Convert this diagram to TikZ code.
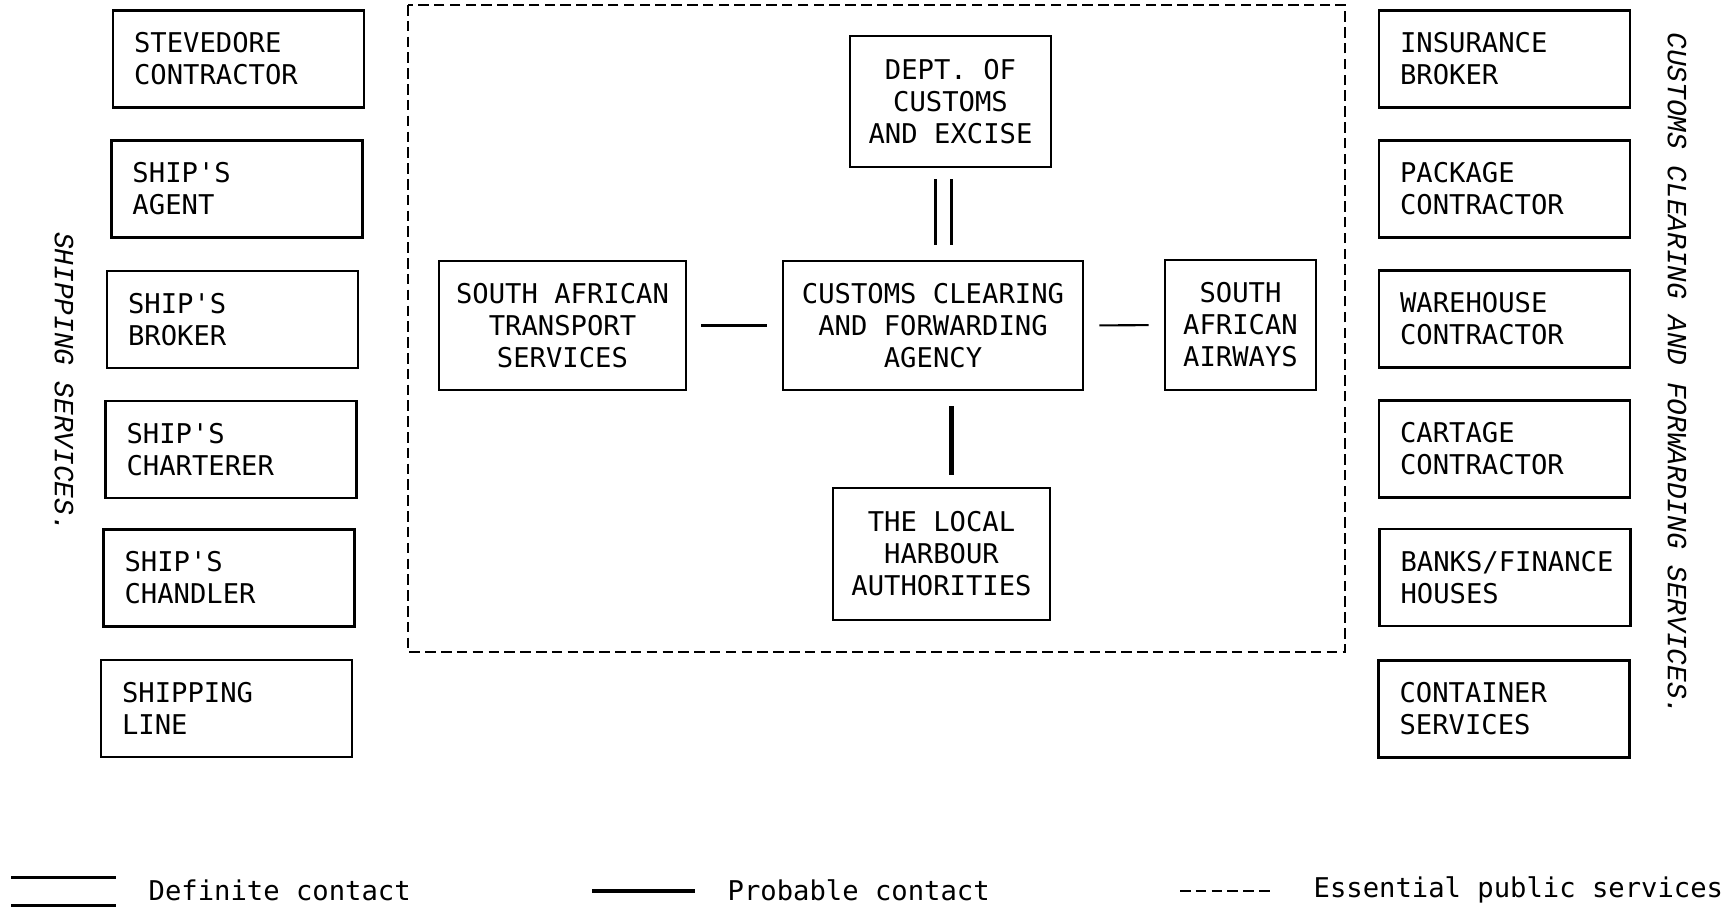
\documentclass[tikz,border=0pt]{standalone}
\usepackage{fontspec}
\setmonofont{DejaVu Sans Mono}
\newfontfamily\courfont{Liberation Mono}
\newcommand\boxfont{\fontsize{7.74}{9.1}\selectfont\ttfamily}
\newcommand\sidefont{\fontsize{7.9}{9.1}\selectfont\courfont\itshape}

\begin{document}
\begin{tikzpicture}[
	sidebox/.style={draw, thick, text width=2.09cm, align=left, inner xsep=0.21cm, minimum height=0.97cm, font=\boxfont},
	midbox/.style={draw, thick, align=center, inner sep=0pt, font=\boxfont},
	definite/.style={double, double distance=3.7pt, line width=0.85pt},
	probable/.style={line width=1.15pt},
	thinlink/.style={line width=0.6pt},
	public/.style={thick, dash pattern=on 3pt off 1.5pt}]
	\useasboundingbox (0,0) rectangle (17.34,-9.08);
	% shipping services
	\node[sidebox] (stevedore) at (2.385,-0.59) {STEVEDORE\\CONTRACTOR};
	\node[sidebox] (agent) at (2.37,-1.89) {SHIP'S\\AGENT};
	\node[sidebox] (broker) at (2.325,-3.195) {SHIP'S\\BROKER};
	\node[sidebox] (charterer) at (2.31,-4.495) {SHIP'S\\CHARTERER};
	\node[sidebox] (chandler) at (2.29,-5.78) {SHIP'S\\CHANDLER};
	\node[sidebox] (line) at (2.265,-7.085) {SHIPPING\\LINE};
	\node[rotate=-90, font=\sidefont] (shiplabel) at (0.64,-3.82) {SHIPPING SERVICES.};
	% clearing and forwarding services
	\node[sidebox] (insurance) at (15.045,-0.59) {INSURANCE\\BROKER};
	\node[sidebox] (package) at (15.045,-1.89) {PACKAGE\\CONTRACTOR};
	\node[sidebox] (warehouse) at (15.045,-3.19) {WAREHOUSE\\CONTRACTOR};
	\node[sidebox] (cartage) at (15.045,-4.49) {CARTAGE\\CONTRACTOR};
	\node[sidebox] (banks) at (15.05,-5.775) {BANKS/FINANCE\\HOUSES};
	\node[sidebox] (container) at (15.04,-7.09) {CONTAINER\\SERVICES};
	\node[rotate=-90, font=\sidefont] (cfslabel) at (16.77,-3.74) {CUSTOMS CLEARING AND FORWARDING SERVICES.};
	% essential public services
	\draw[public] (4.08,-0.05) rectangle (13.45,-6.52);
	\node[midbox, minimum width=2.01cm, minimum height=1.31cm] (dept) at (9.505,-1.015) {DEPT. OF\\CUSTOMS\\AND EXCISE};
	\node[midbox, minimum width=3.00cm, minimum height=1.29cm] (agency) at (9.33,-3.255) {CUSTOMS CLEARING\\AND FORWARDING\\AGENCY};
	\node[midbox, minimum width=2.47cm, minimum height=1.29cm] (sats) at (5.625,-3.255) {SOUTH AFRICAN\\TRANSPORT\\SERVICES};
	\node[midbox, minimum width=1.51cm, minimum height=1.30cm] (saa) at (12.405,-3.25) {SOUTH\\AFRICAN\\AIRWAYS};
	\node[midbox, minimum width=2.17cm, minimum height=1.32cm] (harbour) at (9.415,-5.54) {THE LOCAL\\HARBOUR\\AUTHORITIES};
	\draw[definite, shorten <=0.11cm, shorten >=0.15cm] ([xshift=-0.07cm]dept.south) -- ([xshift=-0.07cm]dept.south |- agency.north);
	\draw[probable, shorten <=0.15cm, shorten >=0.12cm] ([xshift=0.1cm]harbour.north |- agency.south) -- ([xshift=0.1cm]harbour.north);
	\draw[thinlink, shorten <=0.14cm, shorten >=0.15cm] (sats.east) -- (agency.west);
	\draw[thinlink, shorten <=0.15cm, shorten >=0.15cm] (agency.east) -- (saa.west);
	% legend
	\draw[line width=0.85pt] (0.11,-8.77) -- (1.16,-8.77);
	\draw[line width=0.85pt] (0.11,-9.05) -- (1.16,-9.05);
	\node[anchor=west, inner sep=0pt, font=\boxfont] (deflegend) at (1.48,-8.9) {Definite contact};
	\draw[probable] (5.92,-8.91) -- (6.95,-8.91);
	\node[anchor=west, inner sep=0pt, font=\boxfont] (problegend) at (7.27,-8.9) {Probable contact};
	\draw[public] (11.80,-8.91) -- (12.70,-8.91);
	\node[anchor=west, inner sep=0pt, font=\boxfont] (publegend) at (13.13,-8.9) {Essential public services};
\end{tikzpicture}
\end{document}
